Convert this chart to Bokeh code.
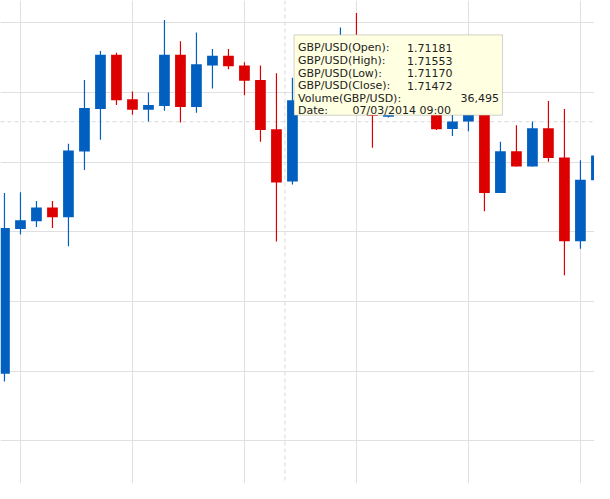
from bokeh.plotting import figure
from bokeh.models import FixedTicker, Span, BoxAnnotation, Label, ColumnDataSource
from bokeh.embed import file_html
from bokeh.resources import INLINE

# ---- data (GBP/USD hourly candles) ----
opens = [1.70491, 1.71010, 1.71038, 1.71087, 1.71052, 1.71288, 1.71441, 1.71635, 1.71476, 1.71438,
         1.71451, 1.71635, 1.71448, 1.71597, 1.71632, 1.71597, 1.71545, 1.71368, 1.71181, 1.71472,
         1.71587, 1.71656, 1.71691, 1.71569, 1.71413, 1.71500, 1.71465, 1.71510, 1.71369, 1.71396,
         1.71483, 1.71139, 1.71289, 1.71234, 1.71372, 1.71267, 1.70966, 1.71185]
highs = [1.71139, 1.71142, 1.71111, 1.71111, 1.71316, 1.71545, 1.71649, 1.71642, 1.71503, 1.71500,
         1.71760, 1.71684, 1.71715, 1.71656, 1.71656, 1.71608, 1.71597, 1.71569, 1.71553, 1.71622,
         1.71691, 1.71733, 1.71785, 1.71604, 1.71552, 1.71524, 1.71545, 1.71535, 1.71448, 1.71517,
         1.71500, 1.71323, 1.71382, 1.71396, 1.71469, 1.71441, 1.71257, 1.71309]
lows = [1.70463, 1.70990, 1.71017, 1.71014, 1.70948, 1.71222, 1.71330, 1.71455, 1.71420, 1.71396,
        1.71434, 1.71392, 1.71427, 1.71514, 1.71583, 1.71490, 1.71323, 1.70965, 1.71170, 1.71455,
        1.71569, 1.71622, 1.71535, 1.71302, 1.71410, 1.71441, 1.71448, 1.71365, 1.71344, 1.71361,
        1.71074, 1.71139, 1.71234, 1.71234, 1.71251, 1.70844, 1.70939, 1.71170]
closes = [1.71014, 1.71042, 1.71087, 1.71052, 1.71292, 1.71444, 1.71635, 1.71472, 1.71438, 1.71455,
          1.71635, 1.71448, 1.71601, 1.71632, 1.71594, 1.71542, 1.71365, 1.71177, 1.71472, 1.71587,
          1.71656, 1.71691, 1.71569, 1.71416, 1.71500, 1.71465, 1.71510, 1.71368, 1.71396, 1.71483,
          1.71139, 1.71289, 1.71234, 1.71372, 1.71265, 1.70966, 1.71187, 1.71274]

x_grid_ticks = [1, 8, 15, 22, 29, 36]
y_grid_ticks = [1.7025, 1.7050, 1.7075, 1.7100, 1.7125, 1.7150, 1.7175]

tip_labels = ["GBP/USD(Open):", "GBP/USD(High):", "GBP/USD(Low):",
              "GBP/USD(Close):", "Volume(GBP/USD):", "Date:"]
tip_values = ["1.71181", "1.71553", "1.71170", "1.71472", "36,495", "07/03/2014 09:00"]

crosshair_x = 17.53
crosshair_y = 1.71395

# ---- layout helpers (reference pixel -> data) ----
W, H = 594, 483
REF_W, REF_H = 610, 499
X0, DX = 4.07, 16.43
Y_REF, PX_REF, PER_PX = 1.7150, 95.0, 0.0025 / 72.0


def dx(px):
    return (px - X0) / DX


def dy(py):
    return Y_REF - (py - PX_REF) * PER_PX


BLUE = "#005fbf"
RED = "#dd0000"
FONT = "DejaVu Sans"
FSIZE = "11px"
TCOL = "#222222"

xs = list(range(len(opens)))
colors = [BLUE if c >= o else RED for o, c in zip(opens, closes)]
src = ColumnDataSource(dict(
    x=xs, high=highs, low=lows,
    top=[max(o, c) for o, c in zip(opens, closes)],
    bottom=[min(o, c) for o, c in zip(opens, closes)],
    color=colors,
))

p = figure(width=W, height=H,
           x_range=(dx(0), dx(REF_W)), y_range=(dy(REF_H), dy(0)),
           toolbar_location=None, output_backend="svg",
           x_axis_location=None, y_axis_location=None,
           min_border=0, outline_line_color=None,
           background_fill_color="white", border_fill_color="white")

p.xgrid.ticker = FixedTicker(ticks=x_grid_ticks)
p.ygrid.ticker = FixedTicker(ticks=y_grid_ticks)
p.grid.grid_line_color = "#e0e0e0"
p.grid.grid_line_width = 1

for loc, dim in ((crosshair_x, "height"), (crosshair_y, "width")):
    p.add_layout(Span(location=loc, dimension=dim, line_color="#d9d9d9",
                      line_dash="4 3", line_width=1, level="underlay"))

p.segment(x0="x", y0="high", x1="x", y1="low", line_color="color",
          line_width=1.2, source=src)
p.vbar(x="x", width=0.67, top="top", bottom="bottom", fill_color="color",
       line_color=None, source=src)

# ---- static tooltip ----
p.add_layout(BoxAnnotation(left=dx(301.5), right=dx(515.5), top=dy(35.5), bottom=dy(118.5),
                           fill_color="#ffffe1", fill_alpha=1.0,
                           line_color="#6e6e6e", line_width=1, level="overlay"))
base = 49.0
for i, (lab, val) in enumerate(zip(tip_labels, tip_values)):
    yb = dy(base + 13 * i)
    p.add_layout(Label(x=dx(305.5), y=yb, text=lab, text_font=FONT,
                       text_font_size=FSIZE, text_color=TCOL,
                       text_baseline="alphabetic", level="overlay"))
    if lab.startswith("Volume"):
        vx, align = 512, "right"
    elif lab.startswith("Date"):
        vx, align = 361.5, "left"
    else:
        vx, align = 417.5, "left"
    p.add_layout(Label(x=dx(vx), y=yb, text=val, text_font=FONT,
                       text_font_size=FSIZE, text_color=TCOL, text_align=align,
                       text_baseline="alphabetic", level="overlay"))

open("out.html", "w").write(file_html(p, INLINE))
